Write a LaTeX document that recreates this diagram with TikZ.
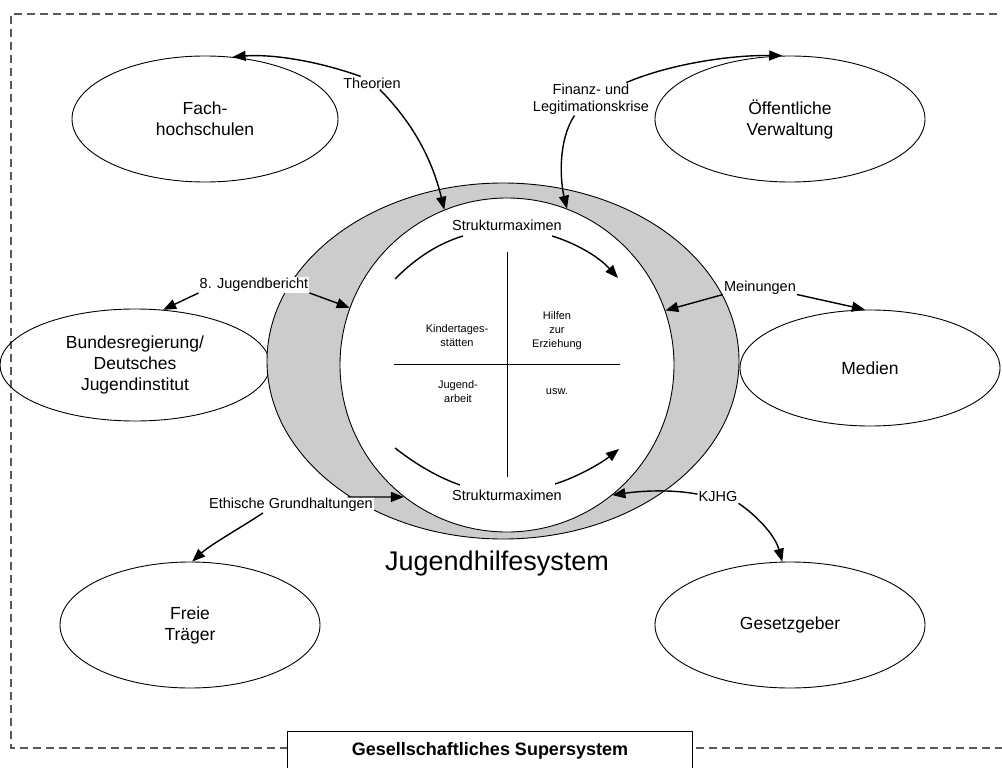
\documentclass[tikz,border=0pt]{standalone}
\usepackage{fontspec}
\setmainfont{Liberation Sans}
\usetikzlibrary{arrows.meta,shapes.geometric}

\begin{document}
\begin{tikzpicture}[x=1pt,y=-1pt,
  sat/.style={draw, ellipse, line width=0.9pt, inner sep=0pt, align=center,
              font=\fontsize{17.5}{21}\selectfont},
  lbl/.style={fill=white, inner sep=1pt, align=center,
              font=\fontsize{14.5}{17}\selectfont},
  quad/.style={align=center, font=\fontsize{11}{14}\selectfont},
  arr/.style={line width=1.4pt, -{Triangle[length=13pt,width=10pt]}},
  plainarc/.style={line width=1.4pt},
  frame/.style={line width=1.2pt, black!65, dash pattern=on 8pt off 5pt},
]
\useasboundingbox (0,0) rectangle (1002,768);

% outer dashed frame of the supersystem
\draw[frame] (1010,14) -- (11,14) -- (11,748) -- (1010,748);

% surrounding systems
\node[sat, minimum width=266, minimum height=126] (fach)   at (205,119) {Fach-\\hochschulen};
\node[sat, minimum width=270, minimum height=126] (oeff)   at (790,119) {Öffentliche\\Verwaltung};
\node[sat, minimum width=270, minimum height=112] (bund)   at (135,365) {Bundesregierung/\\Deutsches\\Jugendinstitut};
\node[sat, minimum width=260, minimum height=116] (medien) at (870,368) {Medien};
\node[sat, minimum width=260, minimum height=126] (freie)  at (190,625) {Freie\\Träger};
\node[sat, minimum width=270, minimum height=126] (gesetz) at (790,625) {Gesetzgeber};

% youth welfare system: grey ring with white core
\node[draw, ellipse, line width=0.9pt, fill=black!20, inner sep=0pt,
      minimum width=472, minimum height=356] (outer) at (503,361) {};
\node[draw, circle, line width=0.9pt, fill=white, inner sep=0pt,
      minimum size=334] (inner) at (507,365) {};

% quadrants
\coordinate (vt) at (507,252);
\coordinate (vb) at (507,477);
\coordinate (hl) at (394,364);
\coordinate (hr) at (620,364);
\draw[line width=0.9pt] (vt) -- (vb);
\draw[line width=0.9pt] (hl) -- (hr);
\node[quad] (kita) at (457,336) {Kindertages-\\stätten};
\node[quad] (hze)  at (557,331) {Hilfen\\zur\\Erziehung};
\node[quad] (ja)   at (458,392) {Jugend-\\arbeit};
\node[quad] (usw)  at (557,392) {usw.};

% structural maxims
\node[lbl, fill=none] (smt) at (507,225) {Strukturmaximen};
\node[lbl, fill=none] (smb) at (507,495) {Strukturmaximen};
\coordinate (tla) at (395,279);
\coordinate (tlb) at (463,236);
\coordinate (tra) at (552,236);
\coordinate (trb) at (618,278);
\coordinate (bla) at (395,448);
\coordinate (blb) at (460,485);
\coordinate (bra) at (555,484);
\coordinate (brb) at (619,449);
\draw[plainarc] (tla) .. controls (418,256) and (440,243) .. (tlb);
\draw[arr] (tra) .. controls (575,243) and (598,256) .. (trb);
\draw[plainarc] (bla) .. controls (418,466) and (440,478) .. (blb);
\draw[arr] (bra) .. controls (577,477) and (600,464) .. (brb);

\node[font=\fontsize{27}{32}\selectfont] (jhs) at (497,564) {Jugendhilfesystem};

% relation labels
\node[lbl] (theo) at (372,83) {Theorien};
\node[lbl] (fin)  at (591,99) {Finanz- und\\Legitimationskrise};
\node[lbl] (jb)   at (254,285) {8. Jugendbericht};
\node[lbl] (mein) at (760,288) {Meinungen};
\node[lbl] (eth)  at (291,505) {Ethische Grundhaltungen};
\node[lbl] (kjhg) at (718,497) {KJHG};

% relations
\draw[arr] (theo.150) .. controls (315,60) and (270,54) .. (fach.66);
\draw[arr] (theo.-40) .. controls (405,115) and (430,150) .. (inner.112);
\draw[arr] (fin.25) .. controls (670,64) and (730,55) .. (oeff.97);
\draw[arr] (fin.225) .. controls (558,140) and (560,180) .. (inner.69);
\draw[arr] (jb.south west) -- (bund.63);
\draw[arr] (jb.south east) -- (inner.160);
\draw[arr] (mein.190) -- (inner.19);
\draw[arr] (mein.-10) -- (medien.95);
\draw[arr] (eth.8) -- (inner.232);
\draw[arr] ([xshift=-28pt]eth.south) .. controls (245,525) and (210,545) .. (freie.88);
\draw[arr] (kjhg.172) .. controls (670,489) and (640,491) .. (inner.309);
\draw[arr] (kjhg.south east) .. controls (756,515) and (775,535) .. (gesetz.97);

% title box of the supersystem
\node[draw, line width=0.9pt, fill=white, minimum width=405, minimum height=42,
      font=\bfseries\fontsize{18}{22}\selectfont, anchor=north west,
      text height=13, yshift=0pt] (super) at (287,731) {};
\node[font=\bfseries\fontsize{18}{22}\selectfont] (supertxt) at (490,751) {Gesellschaftliches Supersystem};
\end{tikzpicture}
\end{document}
